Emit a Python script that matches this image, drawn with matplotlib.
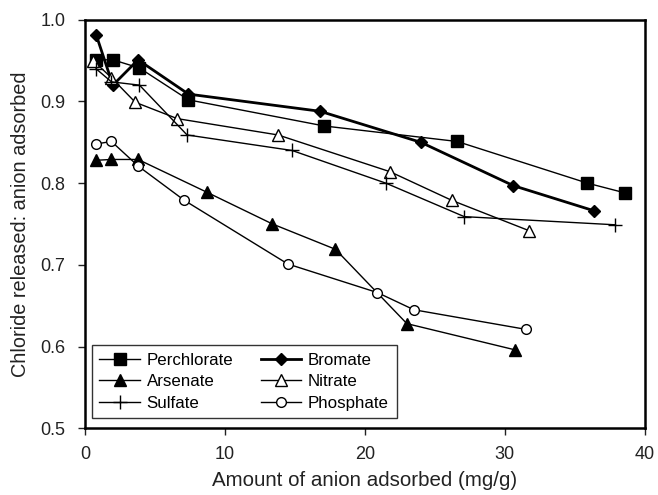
import matplotlib.pyplot as plt

plt.rcParams['font.family'] = ['Liberation Sans', 'DejaVu Sans']

# amount adsorbed (mg/g) and chloride released : anion adsorbed ratio
perchlorate_x = [0.8, 2.0, 3.9, 7.4, 17.1, 26.6, 35.9, 38.6]
perchlorate_y = [0.951, 0.951, 0.941, 0.902, 0.870, 0.851, 0.800, 0.788]

bromate_x = [0.8, 2.0, 3.8, 7.4, 16.8, 24.0, 30.6, 36.4]
bromate_y = [0.982, 0.920, 0.951, 0.909, 0.888, 0.850, 0.797, 0.766]

arsenate_x = [0.8, 1.9, 3.8, 8.7, 13.4, 17.9, 23.0, 30.7]
arsenate_y = [0.828, 0.829, 0.829, 0.789, 0.750, 0.719, 0.628, 0.596]

nitrate_x = [0.6, 1.9, 3.6, 6.6, 13.8, 21.8, 26.2, 31.7]
nitrate_y = [0.950, 0.929, 0.899, 0.879, 0.859, 0.814, 0.779, 0.742]

sulfate_x = [0.8, 1.9, 3.9, 7.3, 14.8, 21.5, 27.1, 37.9]
sulfate_y = [0.940, 0.924, 0.920, 0.859, 0.840, 0.800, 0.759, 0.749]

phosphate_x = [0.8, 1.9, 3.8, 7.1, 14.5, 20.9, 23.5, 31.5]
phosphate_y = [0.848, 0.851, 0.821, 0.779, 0.701, 0.666, 0.645, 0.621]

fig = plt.figure(figsize=(6.58, 4.95), dpi=100)
ax = fig.add_axes([0.129, 0.135, 0.851, 0.825])

h_per, = ax.plot(perchlorate_x, perchlorate_y, color='black', lw=1, marker='s',
                 ms=8, mfc='black', label='Perchlorate')
h_bro, = ax.plot(bromate_x, bromate_y, color='black', lw=2, marker='D', ms=6.5,
                 mfc='black', label='Bromate')
h_ars, = ax.plot(arsenate_x, arsenate_y, color='black', lw=1, marker='^', ms=8,
                 mfc='black', label='Arsenate')
h_nit, = ax.plot(nitrate_x, nitrate_y, color='black', lw=1, marker='^', ms=8,
                 mfc='white', label='Nitrate')
h_sul, = ax.plot(sulfate_x, sulfate_y, color='black', lw=1, marker='+', ms=10,
                 mew=1, label='Sulfate')
h_pho, = ax.plot(phosphate_x, phosphate_y, color='black', lw=1, marker='o', ms=7,
                 mfc='white', label='Phosphate')

ax.set_xlim(0, 40)
ax.set_ylim(0.5, 1.0)
ax.set_xticks([0, 10, 20, 30, 40])
ax.set_yticks([0.5, 0.6, 0.7, 0.8, 0.9, 1.0])
ax.set_yticklabels(['0.5', '0.6', '0.7', '0.8', '0.9', '1.0'])
ax.tick_params(direction='out', length=5, width=1, labelsize=13,
               colors='#222222', top=False, right=False)
ax.tick_params(axis='y', pad=9)
ax.tick_params(axis='x', pad=8)
for s in ax.spines.values():
    s.set_linewidth(1.8)

ax.set_xlabel('Amount of anion adsorbed (mg/g)', fontsize=14.8, color='#222222')
ax.set_ylabel('Chloride released: anion adsorbed', fontsize=14.3, color='#222222')
ax.xaxis.set_label_coords(0.5, -0.105)
ax.yaxis.set_label_coords(-0.098, 0.5)

# row-major legend order like the original
handles = [h_per, h_ars, h_sul, h_bro, h_nit, h_pho]
leg = ax.legend(handles=handles, loc='lower left', ncol=2, fontsize=12.2,
                frameon=True, fancybox=False, edgecolor='black',
                handlelength=2.4, handletextpad=0.4, columnspacing=1.6,
                labelspacing=0.38, borderpad=0.45, borderaxespad=0,
                bbox_to_anchor=(0.012, 0.0245))
leg.get_frame().set_linewidth(1)

fig.savefig('out.png', dpi=100)
